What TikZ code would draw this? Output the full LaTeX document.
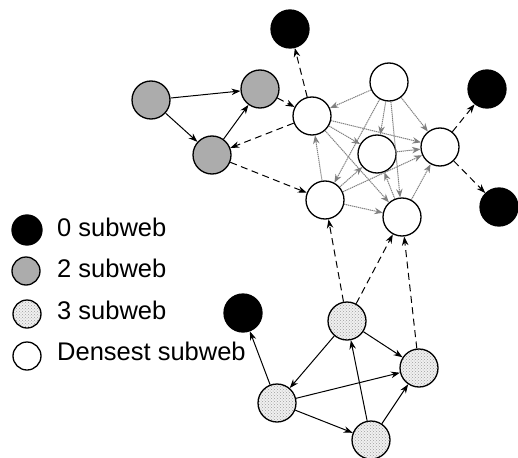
\documentclass[tikz,border=0pt]{standalone}
\usepackage{fontspec}
\setmainfont{Liberation Sans}
\usetikzlibrary{arrows.meta,patterns}

\tikzset{
  web/.style={circle, draw=black, line width=1.3pt, minimum size=38pt, inner sep=0pt},
  zeroweb/.style={web, fill=black},
  twoweb/.style={web, fill=gray!65},
  threeweb/.style={web, preaction={fill=gray!12}, pattern=crosshatch dots, pattern color=gray!75},
  denseweb/.style={web, fill=white},
  keyweb/.style={minimum size=28pt},
  solidedge/.style={-{Stealth[length=9pt,width=6.5pt]}, line width=1pt},
  crossedge/.style={-{Stealth[length=9pt,width=6.5pt]}, line width=1pt, dash pattern=on 7pt off 4.5pt},
  coreedge/.style={-{Stealth[length=8.5pt,width=6.5pt]}, draw=gray, line width=1pt,
                   dash pattern=on 1.3pt off 0.7pt},
  keytext/.style={anchor=base west, inner sep=0pt, font=\fontsize{25.5}{30}\selectfont}
}

\begin{document}
\begin{tikzpicture}[x=1pt, y=-1pt]
\useasboundingbox (0,0) rectangle (518,457);

% 0 subweb
\node[zeroweb] (b1) at (290,29) {};
\node[zeroweb] (b2) at (487,89) {};
\node[zeroweb] (b3) at (499,207) {};
\node[zeroweb] (b4) at (243,313) {};

% 2 subweb
\node[twoweb] (g1) at (151,100) {};
\node[twoweb] (g2) at (260,89) {};
\node[twoweb] (g3) at (212,155) {};

% densest subweb
\node[denseweb] (w1) at (312,116) {};
\node[denseweb] (w2) at (389,82) {};
\node[denseweb] (w3) at (377,154) {};
\node[denseweb] (w4) at (440,147) {};
\node[denseweb] (w5) at (325,200) {};
\node[denseweb] (w6) at (402,217) {};

% 3 subweb
\node[threeweb] (d1) at (347,321) {};
\node[threeweb] (d2) at (419,368) {};
\node[threeweb] (d3) at (277,403) {};
\node[threeweb] (d4) at (371,440) {};

% links inside the densest subweb
\foreach \s/\t in {w2/w1, w2/w3, w2/w4, w2/w5, w2/w6,
                   w1/w3, w1/w4, w1/w6,
                   w5/w1, w5/w3, w5/w4, w5/w6,
                   w3/w4, w6/w3, w6/w4}
  \draw[coreedge] (\s) -- (\t);

% links inside the 2 subweb
\draw[solidedge] (g1) -- (g2);
\draw[solidedge] (g1) -- (g3);
\draw[solidedge] (g3) -- (g2);

% links inside the 3 subweb
\draw[solidedge] (d1) -- (d3);
\draw[solidedge] (d1) -- (d2);
\draw[solidedge] (d3) -- (d2);
\draw[solidedge] (d3) -- (d4);
\draw[solidedge] (d4) -- (d1);
\draw[solidedge] (d4) -- (d2);
\draw[solidedge] (d3) -- (b4);

% links between subwebs
\draw[crossedge] (g2) -- (w1);
\draw[crossedge] (w1) -- (g3);
\draw[crossedge] (g3) -- (w5);
\draw[crossedge] (w1) -- (b1);
\draw[crossedge] (w4) -- (b2);
\draw[crossedge] (w4) -- (b3);
\draw[crossedge] (d1) -- (w5);
\draw[crossedge] (d1) -- (w6);
\draw[crossedge] (d2) -- (w6);

% legend
\node[zeroweb, minimum size=30pt] (k0) at (27,230) {};
\node[twoweb, keyweb] (k2) at (26,271) {};
\node[threeweb, keyweb] (k3) at (27,314) {};
\node[denseweb, keyweb] (kd) at (27,356) {};
\node[keytext] (t0) at (57,236) {0 subweb};
\node[keytext] (t2) at (57,277.5) {2 subweb};
\node[keytext] (t3) at (57,319) {3 subweb};
\node[keytext] (td) at (57,360.5) {Densest subweb};
\end{tikzpicture}
\end{document}
